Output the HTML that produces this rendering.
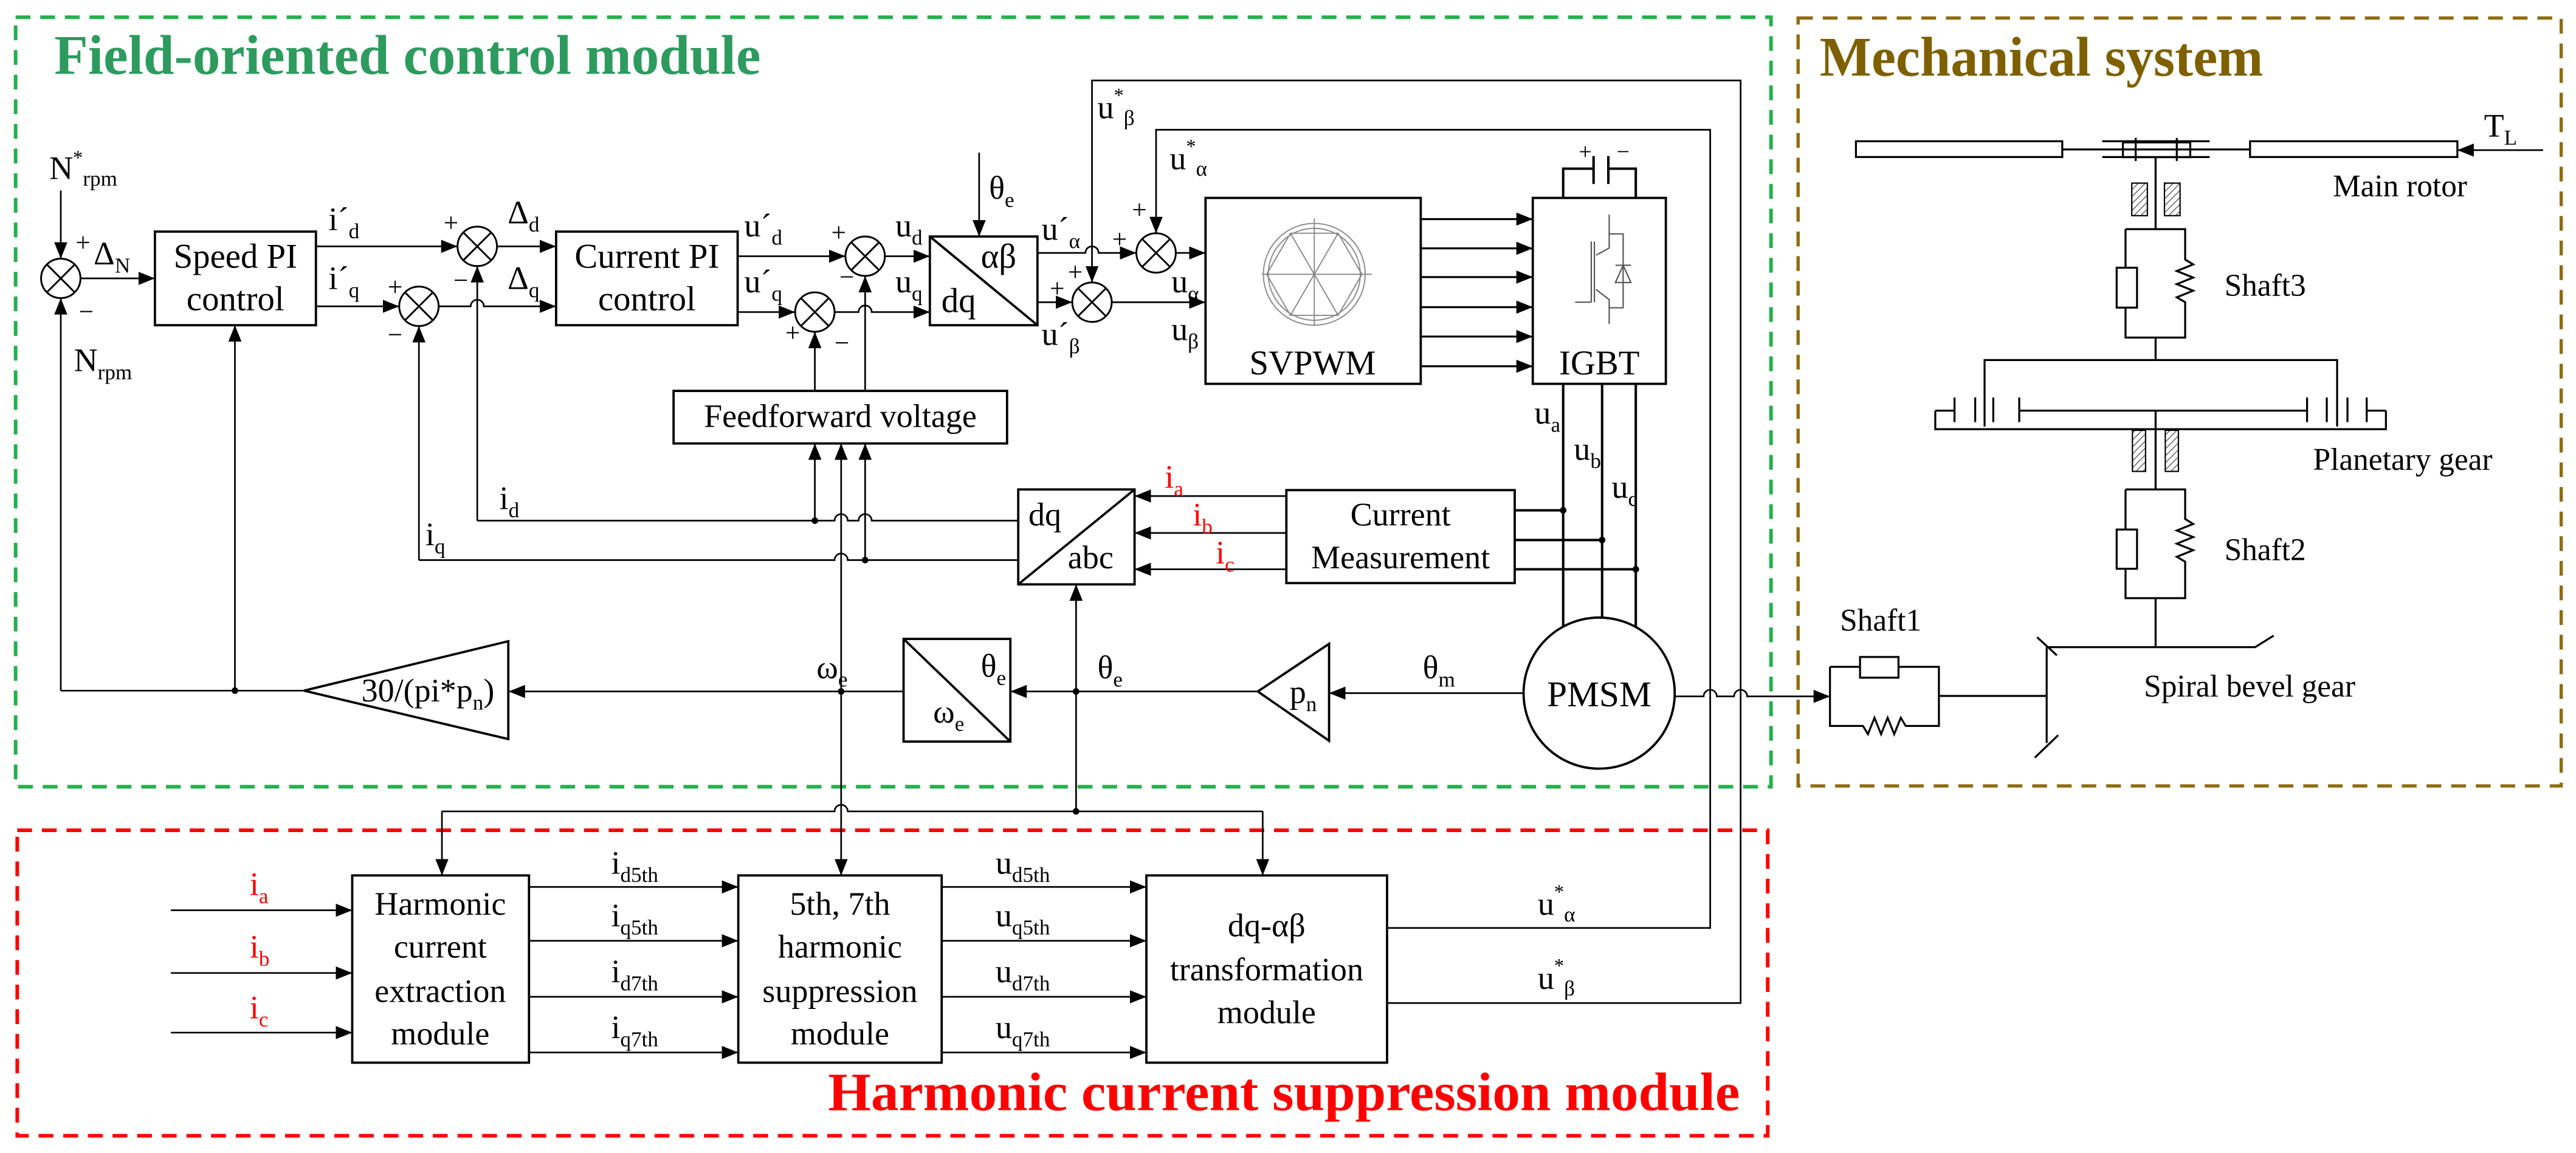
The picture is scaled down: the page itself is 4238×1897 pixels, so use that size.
<!DOCTYPE html>
<html><head><meta charset="utf-8"><style>
html,body{margin:0;padding:0;background:#fff;}
svg{display:block;}
svg text, svg tspan{font-family:"Liberation Serif","Times New Roman","Noto Serif CJK SC","DejaVu Serif",serif !important;}
</style></head><body>
<svg width="4238" height="1897" viewBox="0 0 1568 702" preserveAspectRatio="none" xmlns="http://www.w3.org/2000/svg">
<defs>
<marker id="a" markerUnits="userSpaceOnUse" markerWidth="10" markerHeight="8" refX="10" refY="4" orient="auto"><path d="M0,0 L10,4 L0,8 z" fill="#000"/></marker>
<pattern id="h" width="3" height="3" patternUnits="userSpaceOnUse" patternTransform="rotate(45)"><line x1="0" y1="0" x2="0" y2="3" stroke="#555" stroke-width="1"/></pattern>
</defs>
<rect width="1568" height="702" fill="#fff"/>

<rect x="9.5" y="10.5" width="1068.5" height="468.5" fill="none" stroke="#22b14c" stroke-width="2.2" stroke-dasharray="9 6"/>
<rect x="1094.5" y="11" width="464.5" height="467.5" fill="none" stroke="#8f6c11" stroke-width="2" stroke-dasharray="9 6"/>
<rect x="10.5" y="505.5" width="1065.5" height="186" fill="none" stroke="#ff0000" stroke-width="2.2" stroke-dasharray="9 6"/>

<text x="33" y="45" font-size="34" font-weight="bold" fill="#2e9b5e" textLength="430" lengthAdjust="spacingAndGlyphs">Field-oriented control module</text>
<text x="1107.6" y="46" font-size="34" font-weight="bold" fill="#7f6000" textLength="270" lengthAdjust="spacingAndGlyphs">Mechanical system</text>
<text x="504" y="676" font-size="33" font-weight="bold" fill="#ff0000" textLength="555" lengthAdjust="spacingAndGlyphs">Harmonic current suppression module</text>

<g fill="none" stroke="#000" stroke-width="1">
<g stroke-width="1.1">
<circle cx="37" cy="169.5" r="12"/><path d="M28.5,161 L45.5,178 M45.5,161 L28.5,178"/>
<circle cx="290.5" cy="150" r="12"/><path d="M282,141.5 L299,158.5 M299,141.5 L282,158.5"/>
<circle cx="255" cy="186.5" r="12"/><path d="M246.5,178 L263.5,195 M263.5,178 L246.5,195"/>
<circle cx="526.6" cy="156" r="12"/><path d="M518.1,147.5 L535.1,164.5 M535.1,147.5 L518.1,164.5"/>
<circle cx="496" cy="190" r="12"/><path d="M487.5,181.5 L504.5,198.5 M504.5,181.5 L487.5,198.5"/>
<circle cx="703.7" cy="154" r="12"/><path d="M695.2,145.5 L712.2,162.5 M712.2,145.5 L695.2,162.5"/>
<circle cx="664.7" cy="184" r="12"/><path d="M656.2,175.5 L673.2,192.5 M673.2,175.5 L656.2,192.5"/>
</g>
<g stroke-width="1.4">
<rect x="94.3" y="141" width="98" height="57"/>
<rect x="338.5" y="141" width="110.5" height="57"/>
<rect x="566" y="144" width="65.5" height="54"/><path d="M566,144 L631.5,198"/>
<rect x="410" y="238" width="203" height="32"/>
<rect x="619.8" y="298" width="70.8" height="57.8"/><path d="M619.8,355.8 L690.6,298"/>
<rect x="550" y="389" width="65" height="62.5"/><path d="M550,389 L615,451.5"/>
<rect x="733.8" y="120.5" width="131" height="113.2"/>
<rect x="933" y="120.5" width="81" height="113.2"/>
<rect x="783" y="298.4" width="139" height="56.6"/>
<path d="M765.6,421 L809,392 L809,451 Z"/>
<path d="M185,420.5 L309.4,390.4 L309.4,450 Z"/>
<ellipse cx="973.4" cy="422" rx="46" ry="46"/>
<rect x="214.4" y="533" width="107.6" height="114"/>
<rect x="449.4" y="533" width="123.8" height="114"/>
<rect x="697.8" y="533" width="146.5" height="114"/>
</g>
<path d="M37,116 V157.5" marker-end="url(#a)"/>
<path d="M49,169.5 H94.3" marker-end="url(#a)"/>
<path d="M37,420.5 V181.5" marker-end="url(#a)"/>
<path d="M143,420.5 V198" marker-end="url(#a)"/>
<path d="M185,420.5 H37"/>
<path d="M192.4,150 H278.5" marker-end="url(#a)"/>
<path d="M192.4,186.5 H243" marker-end="url(#a)"/>
<path d="M302.5,150 H338.5" marker-end="url(#a)"/>
<path d="M267,186.5 H286.5 A4,4 0 0 1 294.5,186.5 H338.5" marker-end="url(#a)"/>
<path d="M290.5,317 V162" marker-end="url(#a)"/>
<path d="M255,341 V198.5" marker-end="url(#a)"/>
<path d="M449,156 H514.6" marker-end="url(#a)"/>
<path d="M449,190 H484" marker-end="url(#a)"/>
<path d="M538.6,156 H566" marker-end="url(#a)"/>
<path d="M508,190 H522.6 A4,4 0 0 1 530.6,190 H566" marker-end="url(#a)"/>
<path d="M526.6,238 V168" marker-end="url(#a)"/>
<path d="M496,238 V202" marker-end="url(#a)"/>
<path d="M596,93 V144" marker-end="url(#a)"/>
<path d="M496,317 V270" marker-end="url(#a)"/>
<path d="M512,421 V270" marker-end="url(#a)"/>
<path d="M526.6,341 V270" marker-end="url(#a)"/>
<path d="M290.5,317 H508 A4,4 0 0 1 516,317 H522.6 A4,4 0 0 1 530.6,317 H619.8"/>
<path d="M255,341 H508 A4,4 0 0 1 516,341 H619.8"/>
<path d="M655,421 V355.8" marker-end="url(#a)"/>
<path d="M631.5,154 H660.7 A4,4 0 0 1 668.7,154 H691.7" marker-end="url(#a)"/>
<path d="M631.5,184 H652.7" marker-end="url(#a)"/>
<path d="M844.3,610.7 H1059.5 V49 H664.7 V172" marker-end="url(#a)"/>
<path d="M844.3,565 H1041 V79 H703.7 V142" marker-end="url(#a)"/>
<path d="M715.7,154 H733.8" marker-end="url(#a)"/>
<path d="M676.7,184 H733.8" marker-end="url(#a)"/>
<g stroke-width="1.2">
<path d="M864.8,133.4 H933" marker-end="url(#a)"/>
<path d="M864.8,151.2 H933" marker-end="url(#a)"/>
<path d="M864.8,168.7 H933" marker-end="url(#a)"/>
<path d="M864.8,187 H933" marker-end="url(#a)"/>
<path d="M864.8,204.9 H933" marker-end="url(#a)"/>
<path d="M864.8,223 H933" marker-end="url(#a)"/>
</g>
<g stroke-width="1.5">
<path d="M951.5,120.5 V102.7 H970 M970,95 V112 M979,95 V112 M979,102.7 H995.7 V120.5"/>
<path d="M951.5,233.7 V381.5 M975.2,233.7 V376 M995.7,233.7 V381.8"/>
<path d="M922,310.7 H951.5 M922,328.8 H975.2 M922,346.6 H995.7"/>
</g>
<path d="M783,302 H690.6" marker-end="url(#a)"/>
<path d="M783,324.5 H690.6" marker-end="url(#a)"/>
<path d="M783,346.6 H690.6" marker-end="url(#a)"/>
<path d="M765.6,421 H615" marker-end="url(#a)"/>
<path d="M655,421 V494"/>
<path d="M927.4,422 H809" marker-end="url(#a)"/>
<path d="M1019.4,424 H1037 A4,4 0 0 1 1045,424 H1055.5 A4,4 0 0 1 1063.5,424 H1113.9" marker-end="url(#a)"/>
<path d="M550,421 H309.6" marker-end="url(#a)"/>
<path d="M269,494 H508 A4,4 0 0 1 516,494 H768.6"/>
<path d="M269,494 V533" marker-end="url(#a)"/>
<path d="M768.6,494 V533" marker-end="url(#a)"/>
<path d="M512,421 V533" marker-end="url(#a)"/>
<path d="M104,554.2 H214.4" marker-end="url(#a)"/>
<path d="M104,592.4 H214.4" marker-end="url(#a)"/>
<path d="M104,628.7 H214.4" marker-end="url(#a)"/>
<path d="M322,540 H449.4" marker-end="url(#a)"/>
<path d="M322,572.8 H449.4" marker-end="url(#a)"/>
<path d="M322,606.9 H449.4" marker-end="url(#a)"/>
<path d="M322,640.8 H449.4" marker-end="url(#a)"/>
<path d="M573.2,540 H697.8" marker-end="url(#a)"/>
<path d="M573.2,572.8 H697.8" marker-end="url(#a)"/>
<path d="M573.2,606.9 H697.8" marker-end="url(#a)"/>
<path d="M573.2,640.8 H697.8" marker-end="url(#a)"/>
<g stroke="#555" stroke-width="0.8">
<path d="M968.6,147 V184 M970.5,147 V184 M958.8,184 H968.6"/>
<path d="M971.5,155.4 L979.5,151 V130.7 M971.5,176.3 L979.5,182.4 V197.2"/>
<path d="M979.5,142.4 H988 V187.4 H979.5"/>
<path d="M983.3,161.5 H992.7 M988,161.5 L983.3,172 H992.7 Z"/>
</g>
<g stroke="#888" stroke-width="0.7">
<circle cx="800" cy="167" r="31"/><circle cx="800" cy="167" r="28"/>
<path d="M829,167 L814.5,142 L785.5,142 L771,167 L785.5,192 L814.5,192 Z"/>
<path d="M768,167 H835 M800,198 V133 M814.5,142 L785.5,192 M785.5,142 L814.5,192"/>
</g>
<g stroke-width="1.2">
<rect x="1129.7" y="86" width="125.6" height="9.6"/>
<rect x="1369.6" y="86" width="126.2" height="9.6"/>
<rect x="1292.2" y="86.7" width="41" height="9"/>
<path d="M1255.3,91 H1369.6 M1279.6,86 H1345 M1279.6,95.6 H1345 M1300,84 V98 M1325,84 V98"/>
<path d="M1312.1,95.6 V139.5"/>
<path d="M1293.8,139.5 H1330.1 V158 L1335,161 L1325,165 L1335,169 L1325,173 L1335,177 L1325,181 L1330.1,184 V205.5 H1293.8 V187.3 M1293.8,139.5 V163"/>
<rect x="1288.4" y="163" width="12.4" height="24.3"/>
<path d="M1312.1,205.5 V219.2 M1208,259.7 V219.2 H1422.6 V259.7"/>
<path d="M1229,250 H1404.3 M1178,250 V261.3 H1452.3 V250 M1178,250 H1189.7 M1440.6,250 H1452.3"/>
<path d="M1189.7,242 V257 M1202.3,242 V257 M1213.3,242 V257 M1229.1,242 V257 M1404.3,242 V257 M1416.3,242 V257 M1428.9,242 V257 M1440.6,242 V257"/>
<path d="M1312.1,250 V298"/>
<path d="M1293.8,298 H1330.1 V316 L1335,319 L1325,323 L1335,327 L1325,331 L1335,335 L1325,339 L1330.1,342 V364.2 H1293.8 V346.3 M1293.8,298 V322.4"/>
<rect x="1288.4" y="322.4" width="12.4" height="23.9"/>
<path d="M1312.1,364.2 V394 M1245.8,394 H1372.7 L1384,387 M1240,388 L1252,399 M1245.8,394 V452.4 M1238.6,461.3 L1252.8,447.6"/>
<path d="M1180.2,423.7 H1245.8"/>
<path d="M1113.9,406 H1132.2 M1155.6,406 H1180.2 V442 H1160 L1157,437 L1153,447 L1149,437 L1145,447 L1141,437 L1137,447 L1134,442 H1113.9 V406"/>
<rect x="1132.2" y="400" width="23.4" height="12.6"/>
</g>
<path d="M1548,91.4 H1495.8" marker-end="url(#a)"/>
</g>
<g stroke="#000" stroke-width="0.8" fill="url(#h)">
<rect x="1297.6" y="111.5" width="9.5" height="19.8"/>
<rect x="1317.5" y="111.5" width="9.5" height="19.8"/>
<rect x="1298" y="262" width="8" height="25"/>
<rect x="1318" y="262" width="8" height="25"/>
</g>
<g fill="#000">
<circle cx="143" cy="420.5" r="2"/><circle cx="496" cy="317" r="2"/><circle cx="526.6" cy="341" r="2"/>
<circle cx="655" cy="421" r="2"/><circle cx="512" cy="421" r="2"/><circle cx="655" cy="494" r="2"/>
<circle cx="951.5" cy="310.7" r="2"/><circle cx="975.2" cy="328.8" r="2"/><circle cx="995.7" cy="346.6" r="2"/>
</g>

<g font-size="20" fill="#000">
<text x="30" y="109">N<tspan dy="-9" font-size="12">*</tspan><tspan dy="13" font-size="13">rpm</tspan></text>
<text x="46" y="153" font-size="16">+</text>
<text x="57" y="161">Δ<tspan dy="5" font-size="13">N</tspan></text>
<text x="48" y="195" font-size="16">−</text>
<text x="45" y="226">N<tspan dy="5" font-size="13">rpm</tspan></text>
<text x="143.3" y="163" font-size="21" text-anchor="middle">Speed PI</text>
<text x="143.3" y="189" font-size="21" text-anchor="middle">control</text>
<text x="200" y="140">i´<tspan dy="5" font-size="13">d</tspan></text>
<text x="200" y="176">i´<tspan dy="5" font-size="13">q</tspan></text>
<text x="270" y="141" font-size="16">+</text>
<text x="276" y="176" font-size="16">−</text>
<text x="236" y="180" font-size="16">+</text>
<text x="236" y="209" font-size="16">−</text>
<text x="309" y="136">Δ<tspan dy="5" font-size="13">d</tspan></text>
<text x="309" y="176">Δ<tspan dy="5" font-size="13">q</tspan></text>
<text x="393.8" y="163" font-size="21" text-anchor="middle">Current PI</text>
<text x="393.8" y="189" font-size="21" text-anchor="middle">control</text>
<text x="453" y="144">u´<tspan dy="5" font-size="13">d</tspan></text>
<text x="453" y="178">u´<tspan dy="5" font-size="13">q</tspan></text>
<text x="506" y="147" font-size="16">+</text>
<text x="511" y="174" font-size="16">−</text>
<text x="478" y="208" font-size="16">+</text>
<text x="508" y="214" font-size="16">−</text>
<text x="545" y="144">u<tspan dy="5" font-size="13">d</tspan></text>
<text x="545" y="178">u<tspan dy="5" font-size="13">q</tspan></text>
<text x="597" y="163" font-size="21">αβ</text>
<text x="573" y="190" font-size="21">dq</text>
<text x="602" y="121">θ<tspan dy="5" font-size="13">e</tspan></text>
<text x="511.5" y="260" text-anchor="middle">Feedforward voltage</text>
<text x="304" y="310">i<tspan dy="5" font-size="13">d</tspan></text>
<text x="259" y="332">i<tspan dy="5" font-size="13">q</tspan></text>
<text x="626" y="320">dq</text>
<text x="650" y="346">abc</text>
<text x="634" y="146">u´<tspan dy="5" font-size="13">α</tspan></text>
<text x="634" y="210">u´<tspan dy="5" font-size="13">β</tspan></text>
<text x="668" y="72">u<tspan dy="-10" font-size="12">*</tspan><tspan dy="14" font-size="13">β</tspan></text>
<text x="712" y="103">u<tspan dy="-10" font-size="12">*</tspan><tspan dy="14" font-size="13">α</tspan></text>
<text x="689" y="133" font-size="16">+</text>
<text x="677" y="151" font-size="16">+</text>
<text x="650" y="171" font-size="16">+</text>
<text x="639" y="181" font-size="16">+</text>
<text x="713" y="178">u<tspan dy="5" font-size="13">α</tspan></text>
<text x="713" y="207">u<tspan dy="5" font-size="13">β</tspan></text>
<text x="799" y="228" font-size="21" text-anchor="middle">SVPWM</text>
<text x="973.5" y="228" font-size="21" text-anchor="middle">IGBT</text>
<text x="961" y="97" font-size="14">+</text>
<text x="984" y="97" font-size="14">−</text>
<text x="934" y="258">u<tspan dy="5" font-size="13">a</tspan></text>
<text x="958" y="280">u<tspan dy="5" font-size="13">b</tspan></text>
<text x="981" y="303">u<tspan dy="5" font-size="13">c</tspan></text>
<text x="852.5" y="320" text-anchor="middle">Current</text>
<text x="852.5" y="346" text-anchor="middle">Measurement</text>
<text x="709" y="297" fill="#ff0000">i<tspan dy="5" font-size="13">a</tspan></text>
<text x="726" y="320" fill="#ff0000">i<tspan dy="5" font-size="13">b</tspan></text>
<text x="740" y="343" fill="#ff0000">i<tspan dy="5" font-size="13">c</tspan></text>
<text x="597" y="412">θ<tspan dy="5" font-size="13">e</tspan></text>
<text x="568" y="440">ω<tspan dy="5" font-size="13">e</tspan></text>
<text x="668" y="413">θ<tspan dy="5" font-size="13">e</tspan></text>
<text x="785" y="428">p<tspan dy="5" font-size="13">n</tspan></text>
<text x="866" y="413">θ<tspan dy="5" font-size="13">m</tspan></text>
<text x="973.4" y="430" font-size="22" text-anchor="middle">PMSM</text>
<text x="497" y="413">ω<tspan dy="5" font-size="13">e</tspan></text>
<text x="220" y="427">30/(pi*p<tspan dy="5" font-size="13">n</tspan><tspan dy="-5">)</tspan></text>

<text x="268" y="557" text-anchor="middle">Harmonic</text>
<text x="268" y="583" text-anchor="middle">current</text>
<text x="268" y="610" text-anchor="middle">extraction</text>
<text x="268" y="636" text-anchor="middle">module</text>
<text x="511.3" y="557" text-anchor="middle">5th, 7th</text>
<text x="511.3" y="583" text-anchor="middle">harmonic</text>
<text x="511.3" y="610" text-anchor="middle">suppression</text>
<text x="511.3" y="636" text-anchor="middle">module</text>
<text x="771" y="570" text-anchor="middle">dq-αβ</text>
<text x="771" y="597" text-anchor="middle">transformation</text>
<text x="771" y="623" text-anchor="middle">module</text>
<text x="152" y="545" fill="#ff0000">i<tspan dy="5" font-size="13">a</tspan></text>
<text x="152" y="583" fill="#ff0000">i<tspan dy="5" font-size="13">b</tspan></text>
<text x="152" y="620" fill="#ff0000">i<tspan dy="5" font-size="13">c</tspan></text>
<text x="372" y="532">i<tspan dy="5" font-size="13">d5th</tspan></text>
<text x="372" y="564">i<tspan dy="5" font-size="13">q5th</tspan></text>
<text x="372" y="598">i<tspan dy="5" font-size="13">d7th</tspan></text>
<text x="372" y="632">i<tspan dy="5" font-size="13">q7th</tspan></text>
<text x="606" y="532">u<tspan dy="5" font-size="13">d5th</tspan></text>
<text x="606" y="564">u<tspan dy="5" font-size="13">q5th</tspan></text>
<text x="606" y="598">u<tspan dy="5" font-size="13">d7th</tspan></text>
<text x="606" y="632">u<tspan dy="5" font-size="13">q7th</tspan></text>
<text x="936" y="557">u<tspan dy="-10" font-size="12">*</tspan><tspan dy="14" font-size="13">α</tspan></text>
<text x="936" y="602">u<tspan dy="-10" font-size="12">*</tspan><tspan dy="14" font-size="13">β</tspan></text>

<text x="1512" y="83">T<tspan dy="5" font-size="13">L</tspan></text>
<text x="1420" y="119.5" font-size="19">Main rotor</text>
<text x="1354" y="180" font-size="19">Shaft3</text>
<text x="1408" y="286" font-size="19">Planetary gear</text>
<text x="1354" y="341" font-size="19">Shaft2</text>
<text x="1120" y="384" font-size="19">Shaft1</text>
<text x="1305" y="424" font-size="19">Spiral bevel gear</text>
</g>
</svg>
</body></html>
